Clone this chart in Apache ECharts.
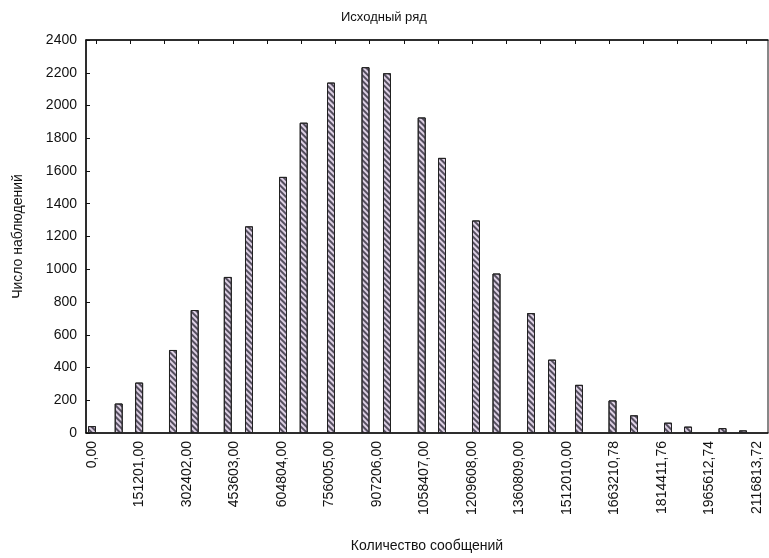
<!DOCTYPE html>
<html>
<head>
<meta charset="utf-8">
<script src="https://cdn.jsdelivr.net/npm/echarts@6/dist/echarts.min.js"></script>
<style>
html,body{margin:0;padding:0;background:#fff;}
#chart{width:769px;height:558px;}
</style>
</head>
<body>
<div id="chart"></div>
<script>
// ---- data ----
const titleText = 'Исходный ряд';
const xAxisName = 'Количество сообщений';
const yAxisName = 'Число наблюдений';

// bin positions (x, number of messages) and counts
const binX = [0, 85000, 150000, 257800, 326900, 432300, 499800, 608000, 673900, 760800,
  870600, 939000, 1049500, 1114100, 1222300, 1287600, 1397400, 1464300, 1550200,
  1656900, 1725300, 1833500, 1897200, 2007000, 2072300];
const binCount = [42, 180, 308, 507, 751, 953, 1262, 1564, 1895, 2140,
  2234, 2197, 1927, 1680, 1298, 974, 732, 448, 294,
  199, 108, 63, 39, 30, 16];

const xTickLabels = ['0,00', '151201,00', '302402,00', '453603,00', '604804,00', '756005,00',
  '907206,00', '1058407,00', '1209608,00', '1360809,00', '1512010,00', '1663210,78',
  '1814411,76', '1965612,74', '2116813,72'];
const topTickValues = [12700, 121600, 230500, 339300, 448200, 557000, 665900, 774800,
  883600, 992500, 1101400, 1210200, 1319100, 1428000, 1536800, 1645700, 1754600,
  1863400, 1972300, 2081200];

const xMin = -19100, xMax = 2151800;
const yMin = 0, yMax = 2400, yStep = 200;

// ---- build ----
const xTickValues = xTickLabels.map(s => parseFloat(s.replace(',', '.')));
const barData = binX.map((x, i) => [x, binCount[i]]);

function labelFor(v) {
  let best = 0, d = Infinity;
  xTickValues.forEach((t, i) => { const dd = Math.abs(t - v); if (dd < d) { d = dd; best = i; } });
  return xTickLabels[best];
}

const font = 'Liberation Sans, Arial, sans-serif';
const chart = echarts.init(document.getElementById('chart'), null, {renderer: 'canvas'});
chart.setOption({
  animation: false,
  backgroundColor: '#ffffff',
  title: {
    text: titleText, left: 336, top: 6,
    textStyle: {fontFamily: font, fontSize: 13, fontWeight: 'normal', color: '#111'}
  },
  grid: {left: 86, right: 1, top: 40, bottom: 122, show: true, borderColor: '#111', borderWidth: 1},
  xAxis: [{
    type: 'value', min: xMin, max: xMax, position: 'bottom',
    name: xAxisName, nameLocation: 'middle', nameGap: 106,
    nameTextStyle: {fontFamily: font, fontSize: 14, color: '#111'},
    axisLine: {show: true, onZero: false, lineStyle: {color: '#111', width: 1.5}},
    axisTick: {show: false},
    splitLine: {show: false},
    axisLabel: {
      customValues: xTickValues, rotate: 90, margin: 8,
      fontFamily: font, fontSize: 14, color: '#111',
      formatter: v => labelFor(v)
    }
  }, {
    type: 'value', min: xMin, max: xMax, position: 'top',
    axisLine: {show: true, onZero: false, lineStyle: {color: '#111', width: 1.5}},
    axisTick: {show: true, inside: true, length: 4, customValues: topTickValues, lineStyle: {color: '#111'}},
    axisLabel: {show: false},
    splitLine: {show: false}
  }],
  yAxis: {
    type: 'value', min: yMin, max: yMax, interval: yStep,
    name: yAxisName, nameLocation: 'middle', nameGap: 61, nameRotate: 90,
    nameTextStyle: {fontFamily: font, fontSize: 14, color: '#111'},
    axisLine: {show: true, onZero: false, lineStyle: {color: '#111', width: 1.5}},
    axisTick: {show: true, inside: true, length: 4, lineStyle: {color: '#111'}},
    splitLine: {show: false},
    axisLabel: {margin: 9, fontFamily: font, fontSize: 14, color: '#111', formatter: v => String(v)}
  },
  series: [{
    type: 'bar', xAxisIndex: 0, barWidth: 8,
    data: barData,
    itemStyle: {
      color: '#ddd0e4', borderColor: '#222', borderWidth: 1,
      decal: {
        symbol: 'rect', symbolSize: 1, color: 'rgba(60,55,70,0.85)',
        dashArrayX: [1, 0], dashArrayY: [1.2, 2], rotation: Math.PI / 4
      }
    }
  }]
});
</script>
</body>
</html>
